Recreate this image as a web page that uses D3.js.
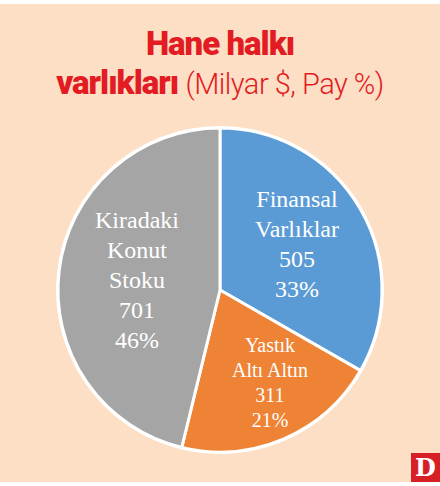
<!DOCTYPE html><html><head><meta charset="utf-8">
<script src="https://cdn.jsdelivr.net/npm/d3@7"></script>
<style>body{margin:0;background:#fff}</style></head><body>
<svg id="c" width="440" height="486"></svg>
<script>
const categories=["Finansal Varlıklar","Yastık Altı Altın","Kiradaki Konut Stoku"];
const labelLines=[["Finansal","Varlıklar"],["Yastık","Altı Altın"],["Kiradaki","Konut","Stoku"]];
const values=[505,311,701];
const shares=["33%","21%","46%"];
const colors=["#5b9bd5","#ee8335","#a5a5a5"];
const svg=d3.select("#c");
svg.append("rect").attr("x",0).attr("y",4).attr("width",440).attr("height",478).attr("fill","#fcdfc4");
const red="#e31b23";
svg.append("text").attr("x",220).attr("y",55).attr("text-anchor","middle").attr("fill",red)
 .attr("font-family","Roboto").attr("font-weight",900).attr("font-size",33).attr("letter-spacing",-1).text("Hane halkı");
const t2=svg.append("text").attr("x",220).attr("y",94).attr("text-anchor","middle").attr("fill",red).attr("font-family","Roboto");
t2.append("tspan").attr("font-weight",900).attr("font-size",33).attr("letter-spacing",-1).text("varlıkları ");
t2.append("tspan").attr("font-weight",300).attr("font-size",29).attr("letter-spacing",-0.5).text("(Milyar $, Pay %)");
const cx=220,cy=290,r=162;
const g=svg.append("g").attr("transform",`translate(${cx},${cy})`);
const pie=d3.pie().sort(null).value(d=>d)(values);
const arc=d3.arc().innerRadius(0).outerRadius(r);
g.selectAll("path").data(pie).join("path").attr("d",arc).attr("fill",(d,i)=>colors[i]).attr("stroke","#fff").attr("stroke-width",3);
g.append("circle").attr("r",r+1).attr("fill","none").attr("stroke","#fff").attr("stroke-width",2);
const pos=[[77,-83,24,30],[50,62,20,25],[-83,-62,24,30]];
pie.forEach((d,i)=>{
 const [x,y,fs,lh]=pos[i];
 const lines=[...labelLines[i],String(values[i]),shares[i]];
 const t=g.append("text").attr("text-anchor","middle").attr("fill","#fff").attr("font-family","Liberation Serif").attr("font-size",fs);
 lines.forEach((l,k)=>t.append("tspan").attr("x",x).attr("y",y+k*lh).text(l));
});
svg.append("rect").attr("x",411).attr("y",453).attr("width",29).attr("height",29).attr("fill","#d71f26");
svg.append("text").attr("x",425.5).attr("y",476).attr("text-anchor","middle").attr("fill","#fff").attr("font-family","DejaVu Serif").attr("font-weight","bold").attr("font-size",24).text("D");
</script></body></html>
